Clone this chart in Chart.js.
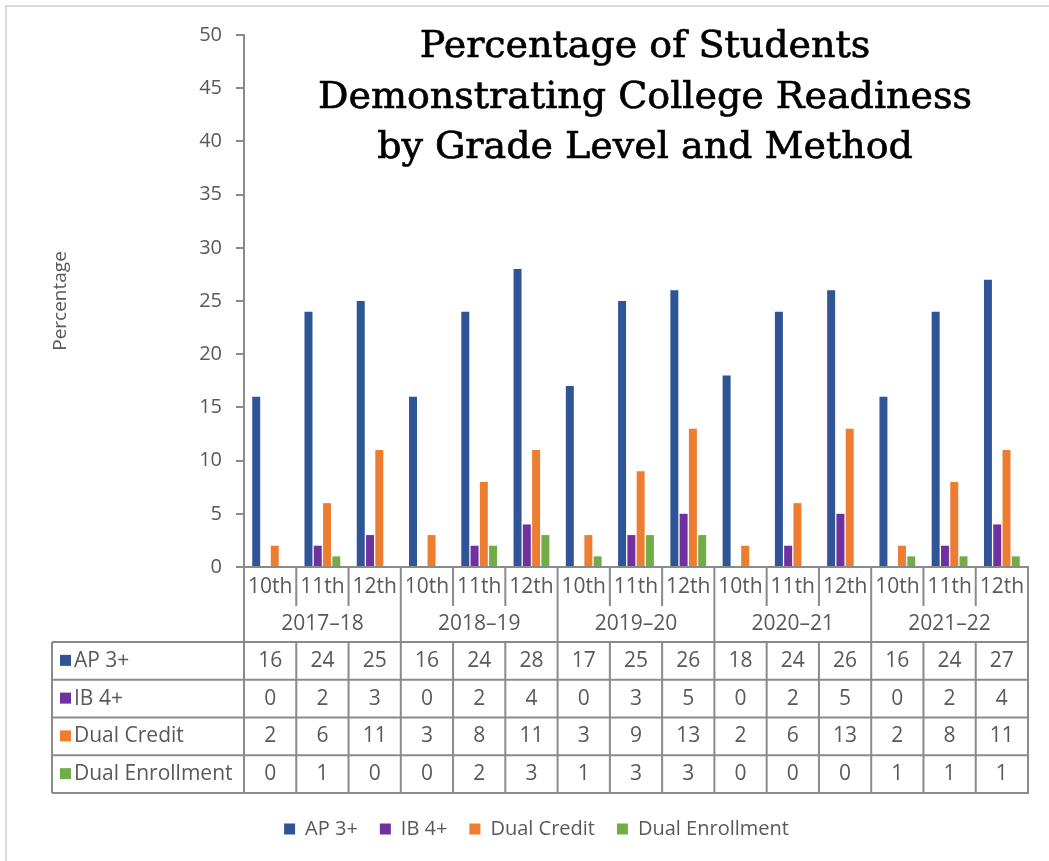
<!DOCTYPE html>
<html>
<head>
<meta charset="utf-8">
<script src="https://cdn.jsdelivr.net/npm/chart.js@4.4.1/dist/chart.umd.min.js"></script>
<style>
  html, body { margin: 0; padding: 0; background: #fff; }
  #wrap { position: relative; width: 1049px; height: 861px; overflow: hidden; }
  #frame { position: absolute; left: 5px; top: 5px; width: 1060px; height: 870px; border: 2px solid #d9d9d9; }
  canvas { position: absolute; left: 0; top: 0; }
</style>
</head>
<body>
<div id="wrap">
  <div id="frame"></div>
  <canvas id="myChart" width="1049" height="861"></canvas>
</div>
<script>
// Data
const years = ['2017–18', '2018–19', '2019–20', '2020–21', '2021–22'];
const grades = ['10th', '11th', '12th'];
const apData = [16, 24, 25, 16, 24, 28, 17, 25, 26, 18, 24, 26, 16, 24, 27];
const ibData = [0, 2, 3, 0, 2, 4, 0, 3, 5, 0, 2, 5, 0, 2, 4];
const dualCreditData = [2, 6, 11, 3, 8, 11, 3, 9, 13, 2, 6, 13, 2, 8, 11];
const dualEnrollData = [0, 1, 0, 0, 2, 3, 1, 3, 3, 0, 0, 0, 1, 1, 1];
const titleLines = ['Percentage of Students', 'Demonstrating College Readiness', 'by Grade Level and Method'];

const textColor = '#595959';
const lineColor = '#8a8a8a';
const baseFont = '"Open Sans", "Noto Sans", sans-serif';

// one label per grade within each year
const labels = [];
years.forEach(y => grades.forEach(g => labels.push(g)));

// Draws the title inside the plot area and the data table below it
const tablePlugin = {
    id: 'dataTable',
    afterDraw(chart) {
        const ctx = chart.ctx;
        const area = chart.chartArea;
        const xs = chart.scales.x;
        const n = labels.length;
        const colW = (area.right - area.left) / n;
        const tableLeft = 52;
        const gradeTop = area.bottom;
        const yearTop = gradeTop + 39;
        const dataTop = yearTop + 36;
        const rowH = 37.75;
        const dataBottom = dataTop + rowH * 4;

        ctx.save();

        // title
        ctx.fillStyle = '#000';
        ctx.strokeStyle = '#000';
        ctx.lineWidth = 0.7;
        ctx.font = '38px "DejaVu Serif", serif';
        ctx.textAlign = 'center';
        ctx.textBaseline = 'alphabetic';
        titleLines.forEach((t, i) => {
            ctx.fillText(t, 645, 57 + i * 50.5);
            ctx.strokeText(t, 645, 57 + i * 50.5);
        });

        ctx.strokeStyle = lineColor;
        ctx.lineWidth = 2;
        ctx.beginPath();
        // x axis baseline
        ctx.moveTo(area.left, gradeTop);
        ctx.lineTo(area.right + 1, gradeTop);
        // column separators in grade rows
        for (let i = 0; i <= n; i++) {
            const x = area.left + i * colW;
            const yearEdge = i % 3 === 0;
            ctx.moveTo(x, gradeTop);
            ctx.lineTo(x, yearEdge ? dataTop : yearTop);
        }
        // data table grid
        for (let r = 0; r <= 4; r++) {
            const y = dataTop + r * rowH;
            ctx.moveTo(tableLeft, y);
            ctx.lineTo(area.right + 1, y);
        }
        ctx.moveTo(tableLeft, dataTop);
        ctx.lineTo(tableLeft, dataBottom);
        for (let i = 0; i <= n; i++) {
            const x = area.left + i * colW;
            ctx.moveTo(x, dataTop);
            ctx.lineTo(x, dataBottom);
        }
        ctx.stroke();

        ctx.fillStyle = textColor;
        ctx.font = '21px ' + baseFont;
        ctx.textAlign = 'center';
        ctx.textBaseline = 'middle';
        labels.forEach((g, i) => {
            ctx.fillText(g, xs.getPixelForValue(i), gradeTop + 20);
        });
        years.forEach((y, j) => {
            const x = area.left + (j * 3 + 1.5) * colW;
            ctx.fillText(y, x, yearTop + 18);
        });

        chart.data.datasets.forEach((ds, r) => {
            const cy = dataTop + r * rowH + rowH / 2;
            ctx.fillStyle = ds.backgroundColor;
            ctx.fillRect(tableLeft + 8, cy - 6, 11, 11);
            ctx.fillStyle = textColor;
            ctx.textAlign = 'left';
            ctx.fillText(ds.label, tableLeft + 22, cy);
            ctx.textAlign = 'center';
            ds.data.forEach((v, i) => {
                ctx.fillText(String(v), xs.getPixelForValue(i), cy);
            });
        });

        ctx.restore();
    }
};

const ctx = document.getElementById('myChart').getContext('2d');
const myChart = new Chart(ctx, {
    type: 'bar',
    data: {
        labels: labels,
        datasets: [
            { label: 'AP 3+', data: apData, backgroundColor: '#2F5597' },
            { label: 'IB 4+', data: ibData, backgroundColor: '#7030A0' },
            { label: 'Dual Credit', data: dualCreditData, backgroundColor: '#ED7D31' },
            { label: 'Dual Enrollment', data: dualEnrollData, backgroundColor: '#70AD47' }
        ]
    },
    options: {
        responsive: false,
        animation: false,
        categoryPercentage: 0.71,
        barPercentage: 0.86,
        layout: { padding: { left: 45, top: 35, right: 21, bottom: 12 } },
        plugins: {
            title: { display: false },
            tooltip: { enabled: false },
            legend: {
                position: 'bottom',
                labels: {
                    color: textColor,
                    font: { size: 20, family: baseFont },
                    boxWidth: 11,
                    boxHeight: 11,
                    padding: 22
                }
            }
        },
        scales: {
            x: {
                grid: { display: false },
                border: { display: false },
                ticks: { display: false },
                afterFit(scale) { scale.height = 230; }
            },
            y: {
                min: 0,
                max: 50,
                ticks: {
                    stepSize: 5,
                    color: textColor,
                    font: { size: 20, family: baseFont },
                    padding: 14
                },
                grid: {
                    drawOnChartArea: false,
                    drawTicks: true,
                    tickLength: 8,
                    color: lineColor,
                    lineWidth: 2
                },
                border: { color: lineColor, width: 2 },
                title: {
                    display: true,
                    text: 'Percentage',
                    color: textColor,
                    font: { size: 19, family: baseFont },
                    padding: { top: 4, bottom: 4 }
                },
                afterFit(scale) { scale.width = 244 - 45; }
            }
        }
    },
    plugins: [tablePlugin]
});
</script>
</body>
</html>
